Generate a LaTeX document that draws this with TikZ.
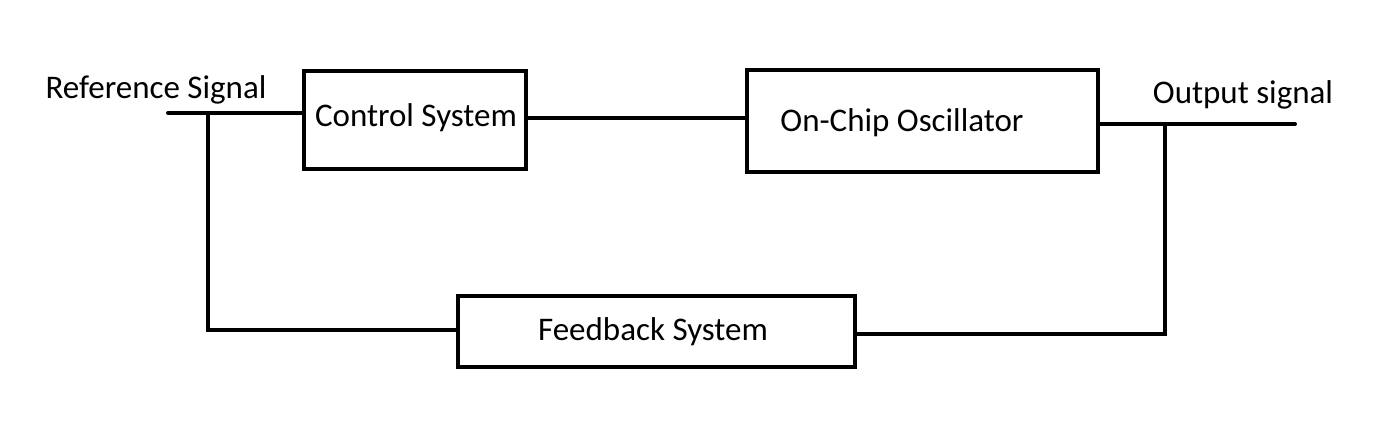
\documentclass[tikz,border=0pt]{standalone}
\usepackage{fontspec}
\setmainfont{Carlito}
\begin{document}
\begin{tikzpicture}[x=1pt,y=-1pt,
  box/.style={draw=black,line width=4pt,inner sep=0pt,fill=white},
  lbl/.style={font=\fontsize{33}{36}\selectfont,inner sep=0pt},
  wire/.style={line width=4pt,line cap=round}]
\useasboundingbox[fill=white] (0,0) rectangle (1382,434);
% boxes
\node[box,minimum width=222pt,minimum height=98pt] (cs) at (415,120) {};
\node[box,minimum width=351pt,minimum height=102pt] (osc) at (922.5,121) {};
\node[box,minimum width=397pt,minimum height=71pt] (fb) at (656.5,331.5) {};
% texts
\node[lbl] (tcs) at (416,118) {Control System};
\node[lbl] (tosc) at (902,123) {On-Chip Oscillator};
\node[lbl] (tfb) at (653,332) {Feedback System};
\node[lbl] (tref) at (156,90) {Reference Signal};
\node[lbl] (tout) at (1243,95) {Output signal};
% coordinates
\coordinate (in) at (168,113);
\coordinate (j1) at (208,113);
\coordinate (j1b) at (208,330);
\coordinate (out) at (1295,124);
\coordinate (j2) at (1165,124);
\coordinate (j2b) at (1165,334);
% connectors
\draw[wire] (in) -- (in -| cs.west);
\draw[wire] (j1) -- (j1b) -- (j1b -| fb.west);
\draw[wire] (cs.east |- 0,118) -- (osc.west |- 0,118);
\draw[wire] (osc.east |- out) -- (out);
\draw[wire] (j2) -- (j2b) -- (j2b -| fb.east);
\end{tikzpicture}
\end{document}
